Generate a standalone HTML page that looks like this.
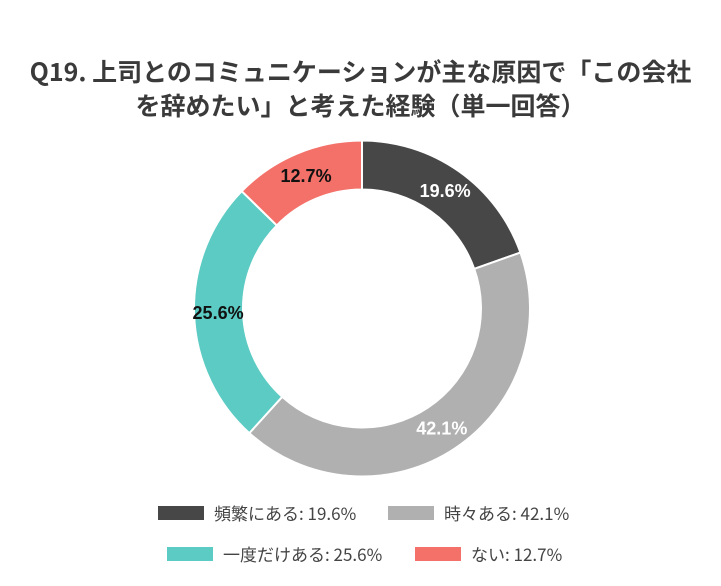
<!DOCTYPE html>
<html><head><meta charset="utf-8"><style>
body{margin:0;background:#fff;width:721px;height:586px;overflow:hidden;font-family:"Liberation Sans","Noto Sans CJK JP",sans-serif;}
.t{position:absolute;left:0;width:721px;text-align:center;font-size:25px;font-weight:bold;color:#3a3a3a;font-family:"Noto Sans CJK JP",sans-serif;white-space:nowrap;}
.lg{position:absolute;font-size:17px;color:#444;font-family:"Noto Sans CJK JP",sans-serif;display:flex;align-items:center;white-space:nowrap;}
.sw{width:46px;height:14px;margin-right:10px;}
</style></head><body>
<div class="t" style="top:53px">Q19. 上司とのコミュニケーションが主な原因で「この会社</div>
<div class="t" style="top:87px">を辞めたい」と考えた経験（単一回答）</div>
<svg id="c" width="721" height="586" style="position:absolute;left:0;top:0"></svg>
<div class="lg" style="left:158px;top:500px"><div class="sw" style="background:#474747"></div>頻繁にある: 19.6%</div>
<div class="lg" style="left:388px;top:500px"><div class="sw" style="background:#b0b0b0"></div>時々ある: 42.1%</div>
<div class="lg" style="left:167px;top:541px"><div class="sw" style="background:#5bcbc3"></div>一度だけある: 25.6%</div>
<div class="lg" style="left:415px;top:541px"><div class="sw" style="background:#f4716a"></div>ない: 12.7%</div>
<script>
const categories=["頻繁にある","時々ある","一度だけある","ない"];
const values=[19.6,42.1,25.6,12.7];
const colors=["#474747","#b0b0b0","#5bcbc3","#f4716a"];
const labelColors=["#fff","#fff","#111","#111"];
const svg=document.getElementById('c'),NS="http://www.w3.org/2000/svg";
const cx=362,cy=308.5,ro=168,ri=119,rl=144;
const total=values.reduce((a,b)=>a+b,0);
function pt(r,a){return [cx+r*Math.sin(a),cy-r*Math.cos(a)];}
let acc=0;
values.forEach((v,i)=>{
 const a0=acc/total*2*Math.PI;acc+=v;const a1=acc/total*2*Math.PI;
 const lg=(a1-a0)>Math.PI?1:0;
 const p1=pt(ro,a0),p2=pt(ro,a1),p3=pt(ri,a1),p4=pt(ri,a0);
 const p=document.createElementNS(NS,'path');
 p.setAttribute('d',`M${p1}A${ro},${ro} 0 ${lg} 1 ${p2}L${p3}A${ri},${ri} 0 ${lg} 0 ${p4}Z`);
 p.setAttribute('fill',colors[i]);p.setAttribute('stroke','#fff');p.setAttribute('stroke-width','2');
 
 
 svg.appendChild(p);
 const m=pt(rl,(a0+a1)/2);
 const t=document.createElementNS(NS,'text');
 t.setAttribute('x',m[0]);t.setAttribute('y',m[1]+6);t.setAttribute('text-anchor','middle');
 t.setAttribute('font-size','18');t.setAttribute('font-weight','bold');t.setAttribute('fill',labelColors[i]);
 t.setAttribute('font-family','Liberation Sans, sans-serif');
 t.textContent=v.toFixed(1)+'%';
 
 
 svg.appendChild(t);
});
</script>
</body></html>
